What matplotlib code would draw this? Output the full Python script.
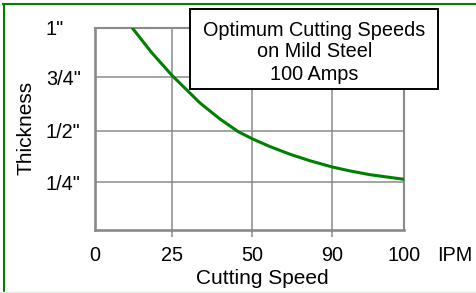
import numpy as np
import matplotlib
matplotlib.use('Agg')
import matplotlib.pyplot as plt
from matplotlib.patches import Rectangle
from matplotlib.lines import Line2D

plt.rcParams['font.family'] = ['Liberation Sans', 'DejaVu Sans']

# ---- data ----
speed_ticks = [0, 25, 50, 90, 100]
speed_tick_labels = ['0', '25', '50', '90', '100']
thick_ticks = [0.25, 0.5, 0.75, 1.0]
thick_tick_labels = ['1/4"', '1/2"', '3/4"', '1"']
curve_speed = [12, 18.3, 25, 33.7, 39.9, 45.6, 50, 58.9, 68.9, 78.9, 90, 92.5, 95.2, 100]
curve_thickness = [1.0, 0.875, 0.758, 0.63, 0.556, 0.497, 0.462, 0.4235, 0.386,
                   0.354, 0.3235, 0.304, 0.286, 0.263]
title_lines = ['Optimum Cutting Speeds', 'on Mild Steel', '100 Amps']

# ---- layout (the original's grid spacing is slightly irregular) ----
x_grid_px = [0, 77.3, 157.2, 237.3, 309.3]
y_grid_in = [0, 0.25, 0.5, 0.75, 1.0]
y_grid_px = [0, 48, 99, 152.7, 202.3]

W, H = 477, 293
fig = plt.figure(figsize=(W / 100, H / 100), dpi=100)
ax = fig.add_axes([95 / W, 1 - 230 / H, 309.3 / W, 202.3 / H])

def fx(v):
    return np.interp(v, speed_ticks, x_grid_px)

def ifx(p):
    return np.interp(p, x_grid_px, speed_ticks)

def fy(v):
    return np.interp(v, y_grid_in, y_grid_px)

def ify(p):
    return np.interp(p, y_grid_px, y_grid_in)

ax.set_xscale('function', functions=(fx, ifx))
ax.set_yscale('function', functions=(fy, ify))
ax.set_xlim(0, 100)
ax.set_ylim(0, 1)

grey = '#8a8a8a'
green = '#008000'
fs = 14.3
fs_title = 15

ax.plot(curve_speed, curve_thickness, color=green, lw=2.2, zorder=3,
        solid_capstyle='butt')

# x ticks: inner ones have small tick marks, outer ones are label-only
ax.set_xticks(speed_ticks[1:-1])
ax.set_xticklabels(speed_tick_labels[1:-1])
ax.set_xticks([speed_ticks[0], speed_ticks[-1]], minor=True)
ax.set_xticklabels([speed_tick_labels[0], speed_tick_labels[-1]], minor=True)
ax.tick_params(axis='x', which='major', length=5, width=1.1, color=grey,
               pad=6.5, labelsize=fs)
ax.tick_params(axis='x', which='minor', length=0, pad=11.5, labelsize=fs)

ax.set_yticks(thick_ticks)
ax.set_yticklabels(thick_tick_labels, ha='left')
ax.tick_params(axis='y', length=0, pad=35.3, labelsize=fs)

ax.grid(True, which='major', color=grey, lw=1.1)
for side in ['left', 'bottom']:
    ax.spines[side].set_color(grey)
    ax.spines[side].set_linewidth(1.9)
for side in ['top', 'right']:
    ax.spines[side].set_color(grey)
    ax.spines[side].set_linewidth(1.5)

ax.set_xlabel('Cutting Speed', fontsize=fs_title)
ax.xaxis.set_label_coords((262.7 - 95) / 309.3, -39.4 / 202.3)
ax.set_ylabel('Thickness', fontsize=fs_title)
ax.yaxis.set_label_coords(-(95 - 36) / 309.3, (230 - 128) / 202.3)

ax.annotate('IPM', xy=(1, 0), xycoords='axes fraction',
            xytext=(50.2 * 0.72, -11.5), textcoords='offset points',
            ha='center', va='top', fontsize=fs)

# title box
fig.add_artist(Rectangle((190 / W, 1 - 89.3 / H), 248 / W, 80 / H,
                         transform=fig.transFigure, facecolor='white',
                         edgecolor='black', lw=1.4, zorder=5))
for line, base in zip(title_lines, [36, 57.3, 80]):
    fig.text(314.3 / W, 1 - base / H, line, ha='center', va='baseline',
             fontsize=fs, zorder=6)

# outer green frame (top and left visible)
fig.add_artist(Line2D([3 / W, 1], [1 - 4.2 / H] * 2, color=green, lw=1.5,
                      transform=fig.transFigure))
fig.add_artist(Line2D([3.8 / W] * 2, [0, 1 - 3.5 / H], color=green, lw=1.5,
                      transform=fig.transFigure))
fig.add_artist(Line2D([0, 1], [0.6 / H] * 2, color='#e4ece4', lw=1.0,
                      transform=fig.transFigure))

fig.savefig('out.png', dpi=100)
